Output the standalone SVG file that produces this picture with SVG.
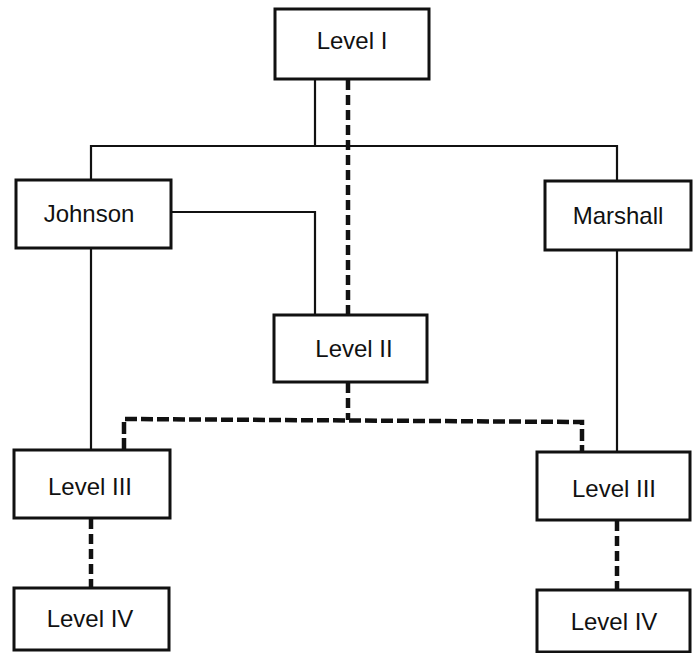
<svg xmlns="http://www.w3.org/2000/svg" width="695" height="653" viewBox="0 0 695 653">
<style>
.box{fill:#fff;stroke:#111;stroke-width:3}
.lbl{font-family:"Liberation Sans",Arial,sans-serif;font-size:24px;fill:#111;text-anchor:middle}
.solid{fill:none;stroke:#111;stroke-width:2.2}
.dv{fill:none;stroke:#111;stroke-width:4.5;stroke-dasharray:10 5}
.dh{fill:none;stroke:#111;stroke-width:4.5;stroke-dasharray:12 4}
</style>
<rect width="695" height="653" fill="#fff"/>
<g id="connectors">
<polyline class="solid" points="315,79 315,146"/>
<polyline class="solid" points="91,180 91,146 617,146 617,181"/>
<polyline class="solid" points="171,212 315,212 315,315"/>
<polyline class="solid" points="91,248 91,450"/>
<polyline class="solid" points="617,250 617,452"/>
<line class="dv" x1="348" y1="80" x2="348" y2="314"/>
<line class="dv" x1="348" y1="383" x2="348" y2="420"/>
<polyline class="dh" points="124,450 124,419 582,422 582,452"/>
<line class="dv" x1="91" y1="519" x2="91" y2="588"/>
<line class="dv" x1="617" y1="521" x2="617" y2="590"/>
</g>
<g id="level1"><rect class="box" x="275" y="9" width="154" height="70"/><text class="lbl" x="352" y="49">Level I</text></g>
<g id="johnson"><rect class="box" x="16" y="180" width="155" height="68"/><text class="lbl" x="89" y="222">Johnson</text></g>
<g id="marshall"><rect class="box" x="545" y="181" width="146" height="69"/><text class="lbl" x="618" y="224">Marshall</text></g>
<g id="level2"><rect class="box" x="274" y="315" width="153" height="67"/><text class="lbl" x="354" y="357">Level II</text></g>
<g id="level3-left"><rect class="box" x="14" y="450" width="156" height="68"/><text class="lbl" x="90" y="495">Level III</text></g>
<g id="level3-right"><rect class="box" x="537" y="452" width="153" height="68"/><text class="lbl" x="614" y="497">Level III</text></g>
<g id="level4-left"><rect class="box" x="14" y="588" width="155" height="62"/><text class="lbl" x="90" y="627">Level IV</text></g>
<g id="level4-right"><rect class="box" x="537" y="590" width="153" height="62"/><text class="lbl" x="614" y="630">Level IV</text></g>
</svg>
